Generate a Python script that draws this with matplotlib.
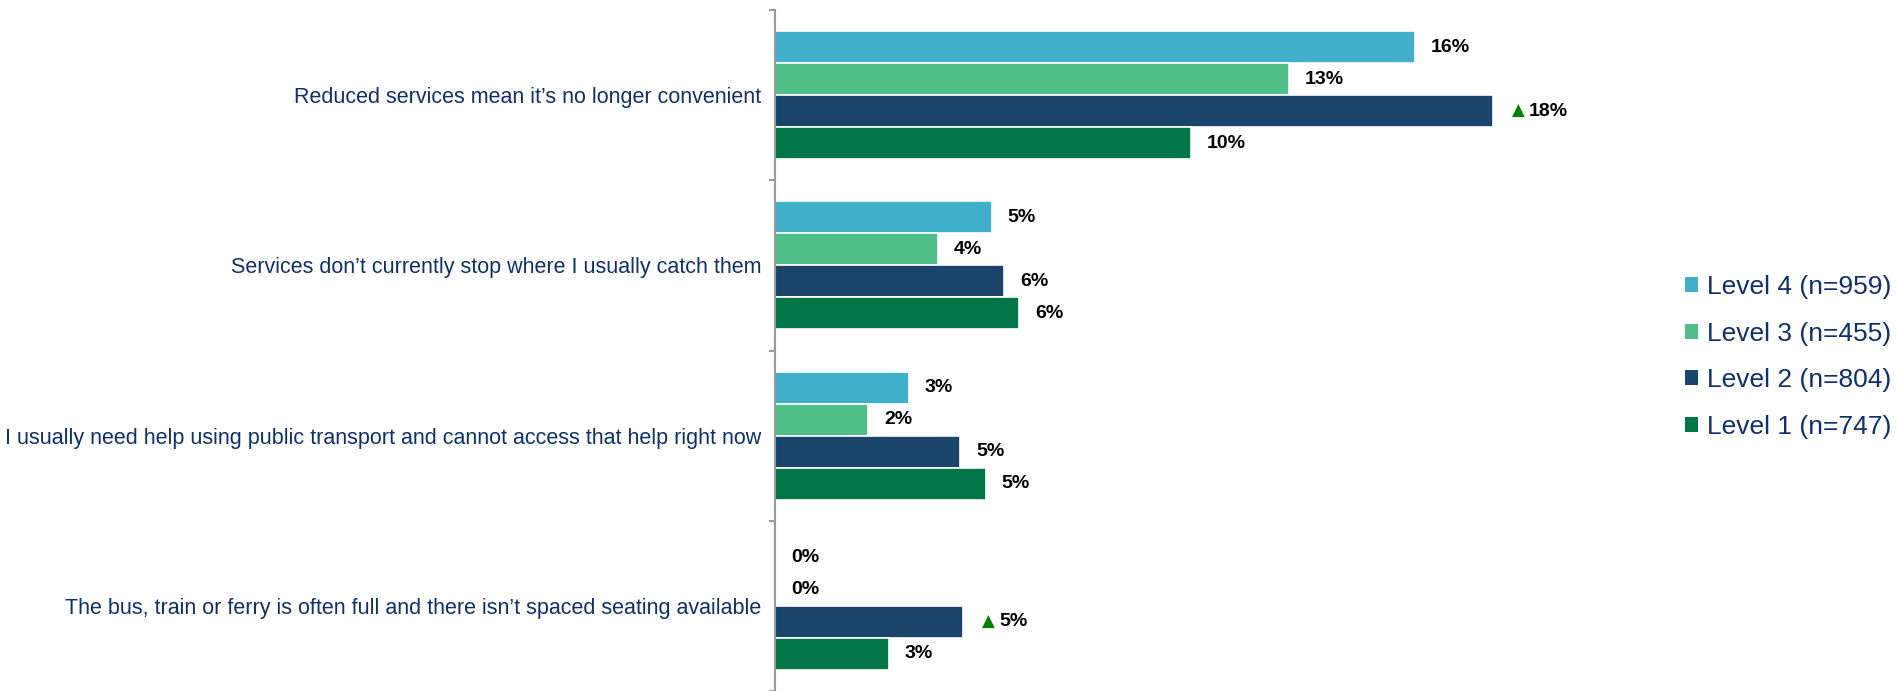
import numpy as np
import matplotlib.pyplot as plt
from matplotlib.patches import Patch

# survey reasons, top to bottom
reasons = [
    "Reduced services mean it\u2019s no longer convenient",
    "Services don\u2019t currently stop where I usually catch them",
    "I usually need help using public transport and cannot access that help right now",
    "The bus, train or ferry is often full and there isn\u2019t spaced seating available",
]
series_names = ["Level 4 (n=959)", "Level 3 (n=455)", "Level 2 (n=804)", "Level 1 (n=747)"]
level4 = [16.0, 5.42, 3.34, 0.0]
level3 = [12.85, 4.08, 2.33, 0.0]
level2 = [17.95, 5.73, 4.63, 4.7]
level1 = [10.4, 6.1, 5.27, 2.85]
# significantly higher than total (Level 2 only)
level2_up = [True, False, False, True]

colors = ["#41afc8", "#50be88", "#1b446a", "#007648"]
text_col = "#10306a"

plt.rcParams['font.family'] = ['Liberation Sans', 'DejaVu Sans']

fig = plt.figure(figsize=(18.97, 6.91), dpi=100)
ax = fig.add_axes([775 / 1897, 0.0, 840 / 1897, 1 - 10 / 691])

series = [level4, level3, level2, level1]
n_groups = len(reasons)
step = 0.1882
group_pos = np.arange(n_groups)

for j, vals in enumerate(series):
    y = group_pos + 0.5 + (j - 1.5) * step
    ax.barh(y, vals, height=step, color=colors[j], edgecolor='white', linewidth=1.2)
    for k, v in enumerate(vals):
        flagged = j == 2 and level2_up[k]
        if flagged:
            ax.annotate("\u25b2", xy=(v, y[k]), xytext=(19 * 0.72, 0), textcoords='offset points',
                        ha='left', va='center', color='#008000', fontsize=12,
                        family='DejaVu Sans')
            off = 36
        else:
            off = 16
        ax.annotate(f"{v:.0f}%", xy=(v, y[k]), xytext=(off * 0.72, 0), textcoords='offset points',
                    ha='left', va='center', color='black', fontsize=14, fontweight='bold')

ax.set_xlim(0, 21)
ax.set_ylim(n_groups, 0)

for s in ['top', 'right', 'bottom']:
    ax.spines[s].set_visible(False)
ax.spines['left'].set_color('#999999')
ax.spines['left'].set_linewidth(1.5)
ax.set_xticks([])

ax.set_yticks(np.arange(n_groups + 1))
ax.set_yticklabels([])
ax.tick_params(axis='y', which='major', direction='out', length=4, width=1.5, color='#999999')
ax.set_yticks(group_pos + 0.5, minor=True)
ax.set_yticklabels(reasons, minor=True, color=text_col, fontsize=15.5)
ax.tick_params(axis='y', which='minor', length=0, pad=10)

handles = [Patch(facecolor=c, edgecolor='none') for c in colors]
fig.legend(handles, series_names, loc='center left', bbox_to_anchor=(1685 / 1897, 1 - 357 / 691),
           frameon=False, fontsize=19, labelcolor=text_col, handlelength=0.5, handleheight=0.5,
           handletextpad=0.35, labelspacing=0.86, borderpad=0, borderaxespad=0)

fig.savefig("out.png", dpi=100)
